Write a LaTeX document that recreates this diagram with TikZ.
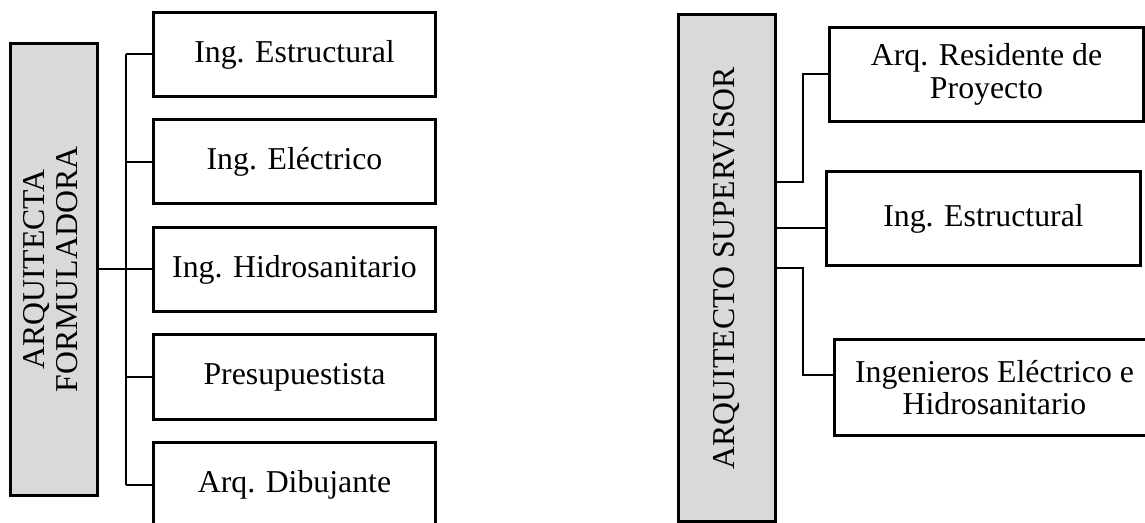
\documentclass[tikz,border=0pt]{standalone}
\usepackage{fontspec}
\setmainfont{Liberation Serif}
\usepackage{graphicx}
\usepackage{xcolor}
\definecolor{boxgray}{RGB}{217,217,217}

\begin{document}
\begin{tikzpicture}[x=0.5pt, y=-0.5pt,
    jefe/.style={draw, line width=1.5pt, fill=boxgray, inner sep=0pt, font=\fontsize{15.9}{16.5}\selectfont},
    cargo/.style={draw, line width=1.5pt, align=center, inner sep=2pt, font=\fontsize{15.9}{16.2}\selectfont},
    enlace/.style={line width=1pt}]
    \clip (0,0) rectangle (1145,523);

    % Arquitecta formuladora
    \node[jefe, minimum width=43.5pt, minimum height=226pt] (formuladora) at (54,269.5)
        {\rotatebox{90}{\begin{tabular}{@{}c@{}}ARQUITECTA\\FORMULADORA\end{tabular}}};

    % Cargos
    \foreach \i/\cargo in {1/Ing. Estructural, 2/Ing. Eléctrico, 3/Ing. Hidrosanitario,
                           4/Presupuestista, 5/Arq. Dibujante}
        \node[cargo, minimum width=141pt, minimum height=42pt] (f\i) at (294.5,{54.5+107.5*(\i-1)}) {\cargo};

    % Tronco
    \coordinate (tronco) at (126,0);
    \draw[enlace] (formuladora.east) -- (formuladora.east -| tronco);
    \draw[enlace] (f1.west -| tronco) -- (f5.west -| tronco);
    \foreach \i in {1,...,5}
        \draw[enlace] (f\i.west) -- (f\i.west -| tronco);

    % Arquitecto supervisor
    \node[jefe, minimum width=48.25pt, minimum height=253.5pt] (supervisor) at (726.8,268)
        {\rotatebox{90}{ARQUITECTO SUPERVISOR}};

    \node[cargo, minimum width=157pt, minimum height=47pt] (residente) at (986.5,74.5) {Arq. Residente de\\Proyecto};
    \node[cargo, minimum width=157pt, minimum height=47pt] (estructural) at (983.5,218.5) {Ing. Estructural};
    \node[cargo, minimum width=160pt, minimum height=48pt] (ingenieros) at (994.5,387.5) {Ingenieros Eléctrico e\\Hidrosanitario};

    % Conectores
    \coordinate (codo) at (803,0);
    \coordinate (b) at ([yshift=-4.75pt]estructural.west);
    \coordinate (c) at ([yshift=6.25pt]ingenieros.west);
    \draw[enlace] ([yshift=43pt]supervisor.east) -| (codo |- residente.west) -- (residente.west);
    \draw[enlace] (b) -- (supervisor.east |- b);
    \draw[enlace] (supervisor.east) -| (codo |- c) -- (c);
\end{tikzpicture}
\end{document}
